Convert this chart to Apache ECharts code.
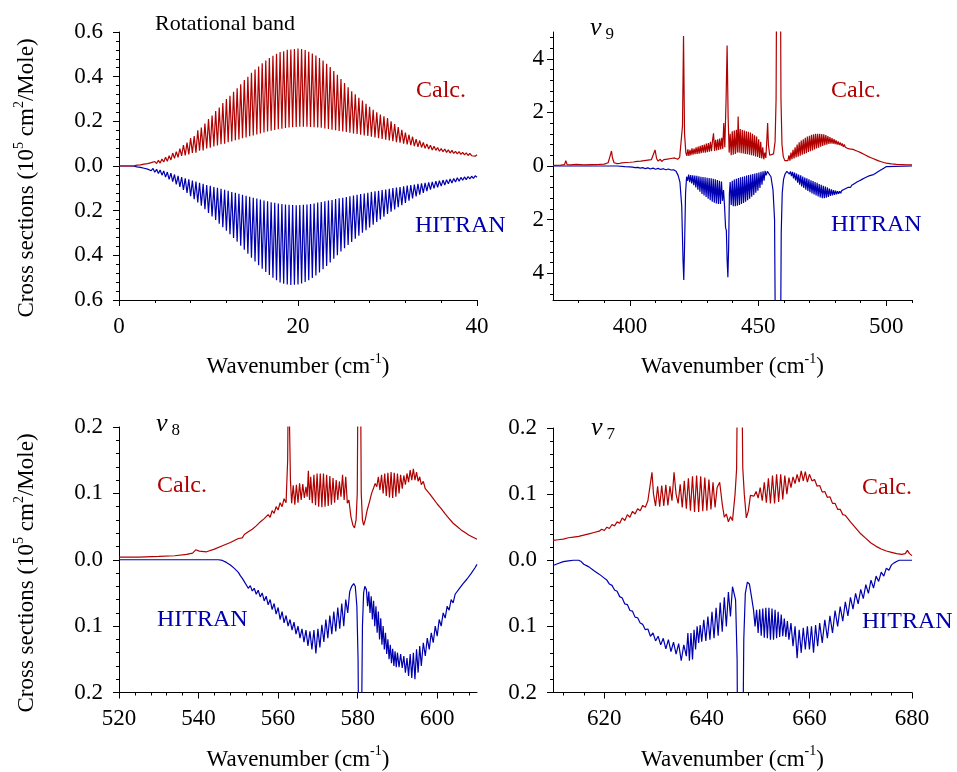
<!DOCTYPE html>
<html><head><meta charset="utf-8">
<script src="https://cdn.jsdelivr.net/npm/echarts@6/dist/echarts.min.js"></script>
<style>html,body{margin:0;padding:0;background:#fff}#c{width:957px;height:772px}</style>
</head><body><div id="c"></div>
<script>
// ---------- Rotational band (0-40 cm-1) ----------
const rotX = [
0,0.2,0.4,0.6,0.8,1,1.2,1.4,1.6,1.8,
2,2.2,2.4,2.6,2.8,3,3.2,3.4,3.6,3.8,
4,4.2,4.4,4.6,4.8,5,5.2,5.4,5.6,5.8,
6,6.2,6.4,6.6,6.8,7,7.2,7.4,7.6,7.8,
8,8.2,8.4,8.6,8.8,9,9.2,9.4,9.6,9.8,
10,10.2,10.4,10.6,10.8,11,11.2,11.4,11.6,11.8,
12,12.2,12.4,12.6,12.8,13,13.2,13.4,13.6,13.8,
14,14.2,14.4,14.6,14.8,15,15.2,15.4,15.6,15.8,
16,16.2,16.4,16.6,16.8,17,17.2,17.4,17.6,17.8,
18,18.2,18.4,18.6,18.8,19,19.2,19.4,19.6,19.8,
20,20.2,20.4,20.6,20.8,21,21.2,21.4,21.6,21.8,
22,22.2,22.4,22.6,22.8,23,23.2,23.4,23.6,23.8,
24,24.2,24.4,24.6,24.8,25,25.2,25.4,25.6,25.8,
26,26.2,26.4,26.6,26.8,27,27.2,27.4,27.6,27.8,
28,28.2,28.4,28.6,28.8,29,29.2,29.4,29.6,29.8,
30,30.2,30.4,30.6,30.8,31,31.2,31.4,31.6,31.8,
32,32.2,32.4,32.6,32.8,33,33.2,33.4,33.6,33.8,
34,34.2,34.4,34.6,34.8,35,35.2,35.4,35.6,35.8,
36,36.2,36.4,36.6,36.8,37,37.2,37.4,37.6,37.8,
38,38.2,38.4,38.6,38.8,39,39.2,39.4,39.6,39.8,
40];
const rotCalc = [
0,0,0,0,0,0.001,0,0.001,0,0.001,
0.004,0.002,0.005,0.003,0.008,0.005,0.011,0.006,0.015,0.008,
0.02,0.011,0.025,0.013,0.031,0.018,0.039,0.021,0.046,0.027,
0.058,0.034,0.064,0.039,0.078,0.045,0.094,0.047,0.105,0.052,
0.125,0.058,0.134,0.06,0.16,0.068,0.172,0.07,0.19,0.078,
0.21,0.082,0.226,0.087,0.246,0.092,0.262,0.097,0.282,0.1,
0.3,0.106,0.314,0.11,0.332,0.115,0.348,0.119,0.366,0.124,
0.385,0.128,0.4,0.133,0.418,0.137,0.432,0.141,0.446,0.146,
0.46,0.15,0.472,0.154,0.484,0.158,0.494,0.161,0.502,0.165,
0.51,0.167,0.514,0.17,0.52,0.172,0.522,0.174,0.524,0.175,
0.526,0.176,0.524,0.176,0.519,0.176,0.511,0.175,0.504,0.174,
0.495,0.173,0.484,0.171,0.472,0.168,0.458,0.166,0.443,0.162,
0.425,0.16,0.408,0.157,0.39,0.155,0.371,0.152,0.353,0.149,
0.335,0.146,0.321,0.143,0.306,0.14,0.293,0.137,0.279,0.135,
0.265,0.131,0.252,0.128,0.241,0.124,0.23,0.121,0.222,0.118,
0.215,0.114,0.2,0.111,0.188,0.107,0.174,0.104,0.162,0.1,
0.15,0.097,0.14,0.093,0.131,0.089,0.12,0.086,0.114,0.083,
0.105,0.079,0.099,0.076,0.093,0.072,0.088,0.07,0.083,0.066,
0.078,0.064,0.076,0.061,0.072,0.058,0.07,0.056,0.066,0.054,
0.064,0.052,0.061,0.05,0.059,0.047,0.056,0.046,0.053,0.044,
0.05];
const rotHitran = [
0,0,0,0,0,-0.001,0,-0.001,0,-0.002,
-0.004,-0.002,-0.006,-0.003,-0.01,-0.006,-0.014,-0.008,-0.021,-0.011,
-0.028,-0.015,-0.034,-0.018,-0.041,-0.022,-0.05,-0.027,-0.06,-0.032,
-0.07,-0.038,-0.082,-0.044,-0.094,-0.05,-0.107,-0.055,-0.121,-0.06,
-0.135,-0.065,-0.149,-0.07,-0.163,-0.075,-0.178,-0.08,-0.194,-0.085,
-0.21,-0.089,-0.226,-0.094,-0.242,-0.098,-0.258,-0.102,-0.274,-0.107,
-0.29,-0.111,-0.306,-0.116,-0.322,-0.12,-0.339,-0.124,-0.357,-0.129,
-0.375,-0.133,-0.393,-0.138,-0.411,-0.142,-0.428,-0.146,-0.444,-0.15,
-0.46,-0.154,-0.474,-0.158,-0.488,-0.162,-0.5,-0.165,-0.512,-0.168,
-0.522,-0.17,-0.527,-0.172,-0.531,-0.174,-0.533,-0.175,-0.532,-0.176,
-0.53,-0.175,-0.526,-0.174,-0.519,-0.172,-0.511,-0.17,-0.501,-0.168,
-0.49,-0.164,-0.477,-0.161,-0.462,-0.158,-0.448,-0.155,-0.432,-0.152,
-0.415,-0.148,-0.399,-0.145,-0.383,-0.142,-0.368,-0.139,-0.354,-0.136,
-0.34,-0.132,-0.326,-0.129,-0.312,-0.126,-0.299,-0.123,-0.287,-0.12,
-0.275,-0.116,-0.263,-0.113,-0.251,-0.111,-0.239,-0.108,-0.227,-0.105,
-0.215,-0.102,-0.205,-0.099,-0.195,-0.097,-0.185,-0.094,-0.175,-0.091,
-0.165,-0.088,-0.155,-0.085,-0.145,-0.083,-0.136,-0.08,-0.128,-0.078,
-0.12,-0.076,-0.113,-0.073,-0.106,-0.071,-0.1,-0.068,-0.095,-0.066,
-0.09,-0.063,-0.085,-0.061,-0.08,-0.058,-0.076,-0.056,-0.072,-0.053,
-0.068,-0.051,-0.064,-0.049,-0.061,-0.047,-0.058,-0.046,-0.055,-0.044,
-0.05];

// ---------- nu9 band (370-510 cm-1), [wavenumber, value] ----------
const nu9Calc = [
[370,0.02],[373,0.03],[374.5,0.05],[375,0.2],[375.5,0.05],[377,0.04],[379,0.06],[379.5,0.04],[382,0.04],[385,0.05],
[388,0.06],[390,0.07],[391.5,0.12],[392.5,0.45],[392.8,0.56],[393.2,0.3],[393.8,0.12],[395,0.09],
[396,0.1],[397,0.12],[397.5,0.1],[398.3,0.13],[399,0.11],[400,0.14],[400.5,0.11],[401.3,0.15],[402,0.12],[402.8,0.17],
[403.4,0.13],[404.2,0.18],[404.8,0.14],[405.6,0.2],[406.2,0.15],[407,0.22],[407.6,0.16],[408.4,0.24],[409,0.2],[409.8,0.6],
[410.4,0.28],[411,0.18],[411.8,0.25],[412.4,0.17],[413.2,0.24],[413.8,0.18],[414.6,0.26],[415.2,0.2],[416,0.28],[416.6,0.22],
[417.4,0.3],[418,0.35],[418.6,0.25],[419.4,0.32],[420,0.3],[420.5,1.5],[420.9,4.85],[421.3,1.2],[421.8,0.5],
[422.2,0.38],[422.6,0.62],[423,0.38],[423.4,0.6],[423.8,0.4],[424.2,0.66],[424.6,0.42],[425,0.65],[425.4,0.44],[425.8,0.7],
[426.2,0.45],[426.6,0.72],[427,0.46],[427.4,0.75],[427.8,0.48],[428.2,0.78],[428.6,0.5],[429,0.8],[429.4,0.5],[429.8,0.84],
[430.2,0.52],[430.6,0.86],[431,0.53],[431.4,0.9],[431.8,0.55],[432.2,0.94],[432.6,1.22],[433,0.56],[433.4,0.98],[433.8,0.58],
[434.2,1.0],[434.6,0.6],[435,1.02],[435.4,0.62],[435.8,1.05],[436.2,0.64],[436.6,1.6],[437,0.7],[437.5,2.5],[437.9,4.5],
[438.3,1.8],[438.7,0.5],[439.1,1.2],[439.5,0.4],[439.9,1.3],[440.3,0.42],[440.7,1.32],[441.1,0.45],[441.5,1.35],[441.9,0.5],
[442.2,1.85],[442.6,0.5],[443,1.38],[443.4,0.48],[443.8,1.35],[444.2,0.47],[444.6,1.32],[445,0.45],[445.4,1.3],[445.8,0.44],
[446.2,1.28],[446.6,0.42],[447,1.25],[447.4,0.4],[447.8,1.2],[448.2,0.38],[448.6,1.15],[449,0.36],[449.4,1.1],[449.8,0.34],
[450.2,1.0],[450.6,0.3],[451,0.9],[451.4,0.28],[451.8,0.7],[452.2,0.25],[452.6,0.5],[453,0.3],[453.4,1.0],[453.7,1.6],
[454,0.8],[454.5,0.4],[455.2,0.35],[456,0.45],[456.6,0.9],[457,2.5],[457.3,9],[458.6,9],[458.9,2.5],[459.3,0.8],
[459.8,0.35],[460.4,0.2],[461,0.15],[461.6,0.2],
[462,0.4],[462.4,0.2],[462.8,0.5],[463.2,0.25],[463.6,0.6],[464,0.28],[464.4,0.7],[464.8,0.32],[465.2,0.8],[465.6,0.35],
[466,0.88],[466.4,0.38],[466.8,0.95],[467.2,0.42],[467.6,1.0],[468,0.45],[468.4,1.05],[468.8,0.48],[469.2,1.1],[469.6,0.52],
[470,1.13],[470.4,0.55],[470.8,1.16],[471.2,0.58],[471.6,1.18],[472,0.62],[472.4,1.2],[472.8,0.65],[473.2,1.2],[473.6,0.68],
[474,1.2],[474.4,0.72],[474.8,1.19],[475.2,0.75],[475.6,1.18],[476,0.78],[476.4,1.15],[476.8,0.8],[477.2,1.12],[477.6,0.82],
[478,1.08],[478.4,0.83],[478.8,1.04],[479.2,0.83],[479.6,1.0],[480,0.82],[480.4,0.96],[480.8,0.8],[481.2,0.92],[481.6,0.78],
[482,0.88],[482.4,0.76],[482.8,0.84],[483.2,0.72],[483.6,0.8],[484,0.7],[484.4,0.76],[484.8,0.66],[485.2,0.71],[485.6,0.64],
[486,0.66],[487,0.62],[488,0.58],[489,0.54],[490,0.5],[491,0.45],[492,0.4],[493,0.35],[494,0.31],[495,0.27],
[496,0.23],[497,0.19],[498,0.16],[499,0.13],[500,0.11],[502,0.08],[504,0.06],[506,0.05],[508,0.04],[510,0.04]];
const nu9Hitran = [
[370,0],[395,0],[398,-0.02],[400,-0.03],[401,-0.04],[402,-0.06],[403,-0.05],[404,-0.08],[405,-0.06],[406,-0.1],
[407,-0.07],[408,-0.11],[409,-0.08],[410,-0.12],[411,-0.09],[412,-0.13],[413,-0.1],[414,-0.14],[415,-0.11],[416,-0.15],
[417,-0.14],[418,-0.2],[418.8,-0.35],[419.5,-0.6],[420.2,-1.5],[420.7,-3.5],[421,-4.25],[421.3,-3.0],[421.7,-1.0],[422.1,-0.4],
[422.5,-0.55],[422.9,-0.32],[423.3,-0.6],[423.7,-0.34],[424.1,-0.65],[424.5,-0.35],[424.9,-0.72],[425.3,-0.36],[425.7,-0.8],[426.1,-0.37],
[426.5,-0.88],[426.9,-0.38],[427.3,-0.96],[427.7,-0.4],[428.1,-1.04],[428.5,-0.41],[428.9,-1.1],[429.3,-0.42],[429.7,-1.16],[430.1,-0.44],
[430.5,-1.22],[430.9,-0.45],[431.3,-1.28],[431.7,-0.46],[432.1,-1.33],[432.5,-0.48],[432.9,-1.37],[433.3,-0.5],[433.7,-1.4],[434.1,-0.52],
[434.5,-1.42],[434.9,-0.55],[435.3,-1.42],[435.7,-0.58],[436.1,-1.3],[436.5,-0.9],[436.9,-1.5],[437.3,-2.3],[437.6,-2.4],[437.9,-3.5],
[438.2,-4.15],[438.5,-3.0],[438.8,-1.0],[439.1,-0.6],[439.5,-1.45],[439.9,-0.55],[440.3,-1.5],[440.7,-0.5],[441.1,-1.5],[441.5,-0.48],
[441.9,-1.48],[442.3,-0.45],[442.7,-1.45],[443.1,-0.42],[443.5,-1.42],[443.9,-0.4],[444.3,-1.38],[444.7,-0.38],[445.1,-1.33],[445.5,-0.36],
[445.9,-1.28],[446.3,-0.34],[446.7,-1.22],[447.1,-0.32],[447.5,-1.15],[447.9,-0.3],[448.3,-1.08],[448.7,-0.28],[449.1,-1.0],[449.5,-0.26],
[449.9,-0.92],[450.3,-0.24],[450.7,-0.82],[451.1,-0.22],[451.5,-0.7],[451.9,-0.2],[452.3,-0.55],[452.7,-0.18],[453.1,-0.35],[453.6,-0.2],
[454.2,-0.25],[455,-0.4],[455.8,-0.9],[456.4,-2.0],[456.9,-9],[458.6,-9],[459,-2.5],[459.4,-1.0],[459.9,-0.5],[460.5,-0.3],
[461.2,-0.2],[461.8,-0.18],[462.2,-0.3],[462.6,-0.2],[463,-0.38],[463.4,-0.22],[463.8,-0.46],[464.2,-0.25],[464.6,-0.54],[465,-0.28],
[465.4,-0.62],[465.8,-0.32],[466.2,-0.7],[466.6,-0.35],[467,-0.76],[467.4,-0.39],[467.8,-0.82],[468.2,-0.43],[468.6,-0.88],[469,-0.46],
[469.4,-0.93],[469.8,-0.5],[470.2,-0.98],[470.6,-0.53],[471,-1.02],[471.4,-0.56],[471.8,-1.06],[472.2,-0.6],[472.6,-1.1],[473,-0.63],
[473.4,-1.14],[473.8,-0.67],[474.2,-1.17],[474.6,-0.7],[475,-1.2],[475.4,-0.74],[475.8,-1.2],[476.2,-0.77],[476.6,-1.18],[477,-0.8],
[477.4,-1.15],[477.8,-0.84],[478.2,-1.12],[478.6,-0.87],[479,-1.1],[479.4,-0.9],[479.8,-1.08],[480.2,-0.92],[480.6,-1.06],[481,-0.94],
[481.4,-1.04],[481.8,-0.94],[482.2,-1.02],[482.6,-0.92],[483,-0.98],[483.4,-0.88],[483.8,-0.94],[484.2,-0.84],[484.6,-0.9],[485,-0.8],
[486,-0.8],[486.5,-0.72],[487,-0.76],[487.5,-0.66],[488,-0.7],[488.5,-0.6],[489,-0.64],[489.5,-0.55],[490,-0.58],[490.5,-0.5],
[491,-0.52],[491.5,-0.45],[492,-0.47],[492.5,-0.4],[493,-0.42],[493.5,-0.36],[494,-0.37],[495,-0.32],[496,-0.26],[497,-0.2],
[498,-0.14],[499,-0.08],[500,-0.02],[500.5,0],[510,0]];

// ---------- nu8 band (520-610 cm-1) ----------
const nu8Calc = [
[520,0.004],[525,0.004],[530,0.005],[534,0.006],[537,0.008],[538.5,0.01],[539.3,0.015],[539.7,0.017],[540.2,0.013],[540.7,0.01],
[542,0.012],[544,0.016],[546,0.021],[548,0.026],[550,0.032],[550.5,0.035],[551,0.033],[551.5,0.038],[552,0.036],[552.5,0.042],
[553,0.04],[553.5,0.046],[554,0.044],[554.5,0.051],[555,0.049],[555.5,0.057],[556,0.054],[556.5,0.062],[557,0.059],[557.5,0.068],
[558,0.064],[558.5,0.074],[559,0.07],[559.5,0.08],[560,0.075],[560.5,0.086],[561,0.08],[561.5,0.092],[562,0.086],[562.4,0.15],
[562.6,0.3],[562.9,0.3],[563.1,0.12],[563.4,0.085],[563.8,0.112],[564.2,0.083],[564.6,0.113],[565,0.086],[565.4,0.115],[565.8,0.09],
[566.2,0.114],[566.6,0.093],[567,0.11],[567.3,0.095],[567.6,0.134],[567.9,0.09],[568.2,0.125],[568.6,0.085],[569,0.128],[569.4,0.082],
[569.8,0.13],[570.2,0.08],[570.6,0.13],[571,0.079],[571.4,0.13],[571.8,0.08],[572.2,0.128],[572.6,0.081],[573,0.126],[573.4,0.083],
[573.8,0.123],[574.2,0.086],[574.6,0.12],[575,0.09],[575.4,0.118],[575.8,0.095],[576.2,0.128],[576.6,0.09],[577,0.125],[577.4,0.085],
[577.8,0.09],[578.3,0.065],[578.8,0.052],[579.2,0.048],[579.6,0.06],[579.9,0.1],[580.1,0.3],[580.7,0.3],[580.9,0.1],[581.2,0.06],
[581.5,0.052],[581.9,0.06],[582.4,0.075],[583,0.088],[583.5,0.1],[584,0.108],[584.4,0.115],[584.8,0.11],[585.2,0.125],[585.6,0.105],
[586,0.128],[586.4,0.1],[586.8,0.13],[587.2,0.096],[587.6,0.131],[588,0.094],[588.4,0.132],[588.8,0.093],[589.2,0.131],[589.6,0.095],
[590,0.13],[590.4,0.1],[590.8,0.128],[591.2,0.107],[591.6,0.127],[592,0.113],[592.4,0.13],[592.8,0.117],[593.2,0.135],[593.6,0.12],
[594,0.137],[594.4,0.12],[594.8,0.132],[595.2,0.118],[595.6,0.125],[596,0.113],[596.5,0.118],[597,0.107],[597.5,0.11],[598,0.1],
[598.5,0.101],[599,0.092],[599.5,0.092],[600,0.084],[600.5,0.084],[601,0.077],[601.5,0.076],[602,0.069],[602.5,0.068],[603,0.062],
[603.5,0.061],[604,0.055],[605,0.05],[606,0.045],[607,0.041],[608,0.037],[609,0.034],[610,0.031]];
const nu8Hitran = [
[520,0],[545,0],[546,-0.001],[547,-0.004],[548,-0.008],[549,-0.013],[550,-0.019],[550.5,-0.024],[551,-0.028],[551.5,-0.033],
[552,-0.035],[552.5,-0.043],[553,-0.039],[553.5,-0.047],[554,-0.043],[554.5,-0.052],[555,-0.046],[555.5,-0.056],[556,-0.05],[556.5,-0.062],
[557,-0.055],[557.5,-0.068],[558,-0.06],[558.5,-0.075],[559,-0.066],[559.5,-0.082],[560,-0.072],[560.5,-0.09],[561,-0.078],[561.5,-0.095],
[562,-0.084],[562.5,-0.1],[563,-0.09],[563.5,-0.106],[564,-0.094],[564.5,-0.112],[565,-0.1],[565.5,-0.118],[566,-0.104],[566.5,-0.124],
[567,-0.106],[567.5,-0.13],[568,-0.108],[568.5,-0.135],[569,-0.106],[569.5,-0.141],[570,-0.104],[570.5,-0.132],[571,-0.098],[571.5,-0.124],
[572,-0.09],[572.5,-0.118],[573,-0.084],[573.5,-0.112],[574,-0.078],[574.5,-0.108],[575,-0.072],[575.5,-0.104],[576,-0.066],[576.5,-0.1],
[577,-0.06],[577.5,-0.08],[578,-0.048],[578.5,-0.04],[579,-0.036],[579.4,-0.04],[579.8,-0.07],[580.1,-0.15],[580.3,-0.3],[580.9,-0.3],
[581.2,-0.1],[581.5,-0.05],[581.8,-0.04],[582.2,-0.045],[582.5,-0.07],[582.8,-0.048],[583.1,-0.08],[583.4,-0.055],[583.7,-0.09],[584,-0.062],
[584.3,-0.1],[584.6,-0.07],[584.9,-0.11],[585.2,-0.078],[585.5,-0.12],[585.8,-0.088],[586.1,-0.128],[586.4,-0.1],[586.7,-0.135],[587,-0.11],
[587.3,-0.142],[587.6,-0.12],[587.9,-0.15],[588.2,-0.128],[588.5,-0.156],[588.8,-0.134],[589.1,-0.16],[589.4,-0.138],[589.7,-0.162],[590,-0.14],
[590.4,-0.162],[590.8,-0.142],[591.2,-0.163],[591.6,-0.145],[592,-0.17],[592.4,-0.148],[592.8,-0.175],[593.2,-0.142],[593.6,-0.178],[594,-0.14],
[594.4,-0.18],[594.8,-0.135],[595.2,-0.17],[595.6,-0.13],[596,-0.16],[596.5,-0.125],[597,-0.145],[597.5,-0.118],[598,-0.135],[598.5,-0.11],
[599,-0.125],[599.5,-0.1],[600,-0.115],[600.5,-0.09],[601,-0.1],[601.5,-0.08],[602,-0.088],[602.5,-0.07],[603,-0.076],[603.5,-0.06],
[604,-0.065],[604.5,-0.052],[605,-0.055],[605.5,-0.044],[606,-0.046],[606.5,-0.036],[607,-0.038],[607.5,-0.029],[608,-0.03],[608.5,-0.021],
[609,-0.02],[609.5,-0.012],[610,-0.007]];

// ---------- nu7 band (610-680 cm-1) ----------
const nu7Calc = [
[610,0.03],[611,0.031],[612,0.032],[613,0.034],[614,0.035],[615,0.036],[616,0.038],[617,0.04],[618,0.042],[619,0.044],
[619.5,0.047],[620,0.045],[620.5,0.05],[621,0.048],[621.5,0.054],[622,0.052],[622.5,0.058],[623,0.056],[623.5,0.064],[624,0.06],
[624.5,0.069],[625,0.065],[625.5,0.074],[626,0.07],[626.5,0.078],[627,0.075],[627.5,0.083],[628,0.08],[628.5,0.09],[628.8,0.087],
[629.3,0.133],[629.6,0.1],[630,0.082],[630.4,0.112],[630.8,0.081],[631.2,0.113],[631.6,0.082],[632,0.114],[632.4,0.083],[632.8,0.112],
[633.2,0.09],[633.6,0.133],[634,0.1],[634.4,0.086],[634.8,0.115],[635.2,0.08],[635.6,0.12],[636,0.078],[636.4,0.124],[636.8,0.075],
[637.2,0.127],[637.6,0.073],[638,0.128],[638.4,0.073],[638.8,0.127],[639.2,0.074],[639.6,0.125],[640,0.075],[640.4,0.122],[640.8,0.077],
[641.2,0.118],[641.6,0.08],[642,0.11],[642.5,0.118],[643,0.085],[643.4,0.065],[643.8,0.07],[644.2,0.058],[644.6,0.066],[645,0.06],
[645.5,0.1],[645.8,0.138],[646,0.3],[646.8,0.3],[647,0.14],[647.3,0.1],[647.7,0.064],[648.1,0.075],[648.5,0.098],[648.8,0.1],
[649.2,0.097],[649.6,0.104],[650,0.094],[650.4,0.11],[650.8,0.09],[651.2,0.118],[651.6,0.087],[652,0.124],[652.4,0.086],[652.8,0.128],
[653.2,0.086],[653.6,0.13],[654,0.088],[654.4,0.13],[654.8,0.092],[655.2,0.128],[655.6,0.1],[656,0.125],[656.4,0.11],[656.8,0.126],
[657.2,0.116],[657.6,0.13],[658,0.118],[658.4,0.135],[658.8,0.12],[659.2,0.134],[659.6,0.118],[660,0.13],[660.5,0.12],[661,0.122],
[661.5,0.112],[662,0.113],[662.5,0.103],[663,0.104],[663.5,0.095],[664,0.096],[664.5,0.086],[665,0.086],[665.5,0.077],[666,0.077],
[666.5,0.069],[667,0.068],[668,0.058],[669,0.049],[670,0.04],[671,0.033],[672,0.026],[673,0.021],[674,0.017],[675,0.014],
[676,0.012],[677,0.01],[678,0.009],[678.7,0.01],[679.1,0.015],[679.5,0.01],[680,0.007]];
const nu7Hitran = [
[610,-0.008],[611,-0.005],[612,-0.002],[613,-0.001],[614,0],[615,0],[615.5,-0.002],[616,-0.006],[617,-0.01],[618,-0.016],
[619,-0.021],[620,-0.027],[620.5,-0.03],[621,-0.036],[621.5,-0.038],[622,-0.045],[622.5,-0.047],[623,-0.055],[623.5,-0.057],[624,-0.066],
[624.5,-0.067],[625,-0.076],[625.5,-0.077],[626,-0.086],[626.5,-0.087],[627,-0.095],[627.5,-0.097],[628,-0.105],[628.5,-0.104],[629,-0.115],
[629.5,-0.11],[630,-0.122],[630.5,-0.115],[631,-0.128],[631.5,-0.118],[632,-0.134],[632.5,-0.12],[633,-0.138],[633.5,-0.124],[634,-0.142],
[634.5,-0.126],[635,-0.152],[635.5,-0.128],[636,-0.145],[636.3,-0.11],[636.6,-0.152],[636.9,-0.11],[637.2,-0.15],[637.5,-0.105],[637.8,-0.135],
[638.1,-0.1],[638.4,-0.125],[638.7,-0.098],[639,-0.123],[639.4,-0.09],[639.8,-0.122],[640.2,-0.085],[640.6,-0.12],[641,-0.078],[641.4,-0.118],
[641.8,-0.072],[642.2,-0.114],[642.6,-0.064],[643,-0.108],[643.4,-0.056],[643.8,-0.1],[644.2,-0.048],[644.6,-0.085],[645,-0.04],[645.3,-0.038],
[645.6,-0.06],[645.9,-0.15],[646,-0.3],[647,-0.3],[647.2,-0.12],[647.5,-0.05],[647.9,-0.033],[648.3,-0.036],[648.7,-0.055],[649.1,-0.075],
[649.4,-0.1],[649.7,-0.075],[650,-0.11],[650.3,-0.074],[650.6,-0.114],[650.9,-0.073],[651.2,-0.117],[651.5,-0.072],[651.8,-0.118],[652.1,-0.072],
[652.4,-0.12],[652.7,-0.073],[653,-0.12],[653.3,-0.075],[653.6,-0.118],[653.9,-0.078],[654.2,-0.116],[654.5,-0.082],[654.8,-0.115],[655.1,-0.088],
[655.4,-0.116],[655.7,-0.092],[656,-0.12],[656.4,-0.095],[656.8,-0.13],[657.2,-0.1],[657.6,-0.148],[658,-0.105],[658.4,-0.14],[658.8,-0.102],
[659.2,-0.135],[659.6,-0.1],[660,-0.135],[660.4,-0.1],[660.8,-0.14],[661.2,-0.098],[661.6,-0.13],[662,-0.095],[662.5,-0.125],[663,-0.09],
[663.5,-0.118],[664,-0.084],[664.5,-0.11],[665,-0.076],[665.5,-0.1],[666,-0.07],[666.5,-0.092],[667,-0.063],[667.5,-0.084],[668,-0.056],
[668.5,-0.074],[669,-0.05],[669.5,-0.066],[670,-0.044],[670.5,-0.058],[671,-0.037],[671.5,-0.05],[672,-0.03],[672.5,-0.042],[673,-0.024],
[673.5,-0.032],[674,-0.018],[674.5,-0.024],[675,-0.012],[675.5,-0.015],[676,-0.007],[676.5,-0.004],[677,-0.002],[677.5,0],[680,0]];

// ---------- axis ticks ----------
const p1XMajor = [0,20,40];
const p1XMinor = [4,8,12,16,24,28,32,36];
const p1YMajor = [-0.6,-0.4,-0.2,0,0.2,0.4,0.6];
const p1YMinor = [-0.56,-0.52,-0.48,-0.44,-0.36,-0.32,-0.28,-0.24,-0.16,-0.12,-0.08,-0.04,0.04,0.08,0.12,0.16,0.24,0.28,0.32,0.36,0.44,0.48,0.52,0.56];
const p2XMajor = [400,450,500];
const p2XMinor = [380,390,410,420,430,440,460,470,480,490,510];
const p2YMajor = [-4,-2,0,2,4];
const p2YMinor = [-4.8,-4.4,-3.6,-3.2,-2.8,-2.4,-1.6,-1.2,-0.8,-0.4,0.4,0.8,1.2,1.6,2.4,2.8,3.2,3.6,4.4,4.8];
const p3XMajor = [520,540,560,580,600];
const p3XMinor = [524,528,532,536,544,548,552,556,564,568,572,576,584,588,592,596,604,608];
const p4XMajor = [620,640,660,680];
const p4XMinor = [612,616,624,628,632,636,644,648,652,656,664,668,672,676];
const p34YMajor = [-0.2,-0.1,0,0.1,0.2];
const p34YMinor = [-0.18,-0.16,-0.14,-0.12,-0.08,-0.06,-0.04,-0.02,0.02,0.04,0.06,0.08,0.12,0.14,0.16,0.18];

const FONT = 'Liberation Serif';
const RED = '#b00000', BLUE = '#0000b0';
const supRich = {
  n: {fontFamily: FONT, fontSize: 23, color: '#000', lineHeight: 30, verticalAlign: 'middle'},
  sup: {fontFamily: FONT, fontSize: 14, color: '#000', verticalAlign: 'top'}
};
const xName = '{n|Wavenumber (cm}{sup|-1}{n|)}';

function majorX(gi, min, max, vals) {
  return {type: 'value', gridIndex: gi, min: min, max: max, position: 'bottom',
    name: xName, nameLocation: 'middle', nameGap: 52,
    nameTextStyle: {rich: supRich},
    axisLine: {onZero: false, lineStyle: {color: '#000', width: 1}},
    axisTick: {customValues: vals, length: 6, lineStyle: {color: '#000'}},
    axisLabel: {customValues: vals, margin: 15, fontFamily: FONT, fontSize: 23, color: '#000'},
    splitLine: {show: false}};
}
function minorAxis(pos, gi, min, max, vals) {
  return {type: 'value', gridIndex: gi, min: min, max: max, position: pos,
    axisLine: {show: false, onZero: false},
    axisTick: {show: true, customValues: vals, length: 3, lineStyle: {color: '#000'}},
    axisLabel: {show: false}, splitLine: {show: false}};
}
function majorY(gi, min, max, vals, dec, margin) {
  return {type: 'value', gridIndex: gi, min: min, max: max, position: 'left',
    axisLine: {show: true, onZero: false, lineStyle: {color: '#000', width: 1}},
    axisTick: {show: true, customValues: vals, length: 6, lineStyle: {color: '#000'}},
    axisLabel: {customValues: vals, margin: margin, fontFamily: FONT, fontSize: 23, color: '#000',
      formatter: function (v) { return Math.abs(v).toFixed(dec); }},
    splitLine: {show: false}};
}
function line(xi, yi, data, color) {
  return {type: 'line', xAxisIndex: xi, yAxisIndex: yi, data: data, showSymbol: false, symbol: 'none',
    clip: true, sampling: null, lineStyle: {color: color, width: 1.2}, animation: false};
}

const rotCalcData = rotX.map(function (x, i) { return [x, rotCalc[i]]; });
const rotHitranData = rotX.map(function (x, i) { return [x, rotHitran[i]]; });

function label(x, y, text, color, size) {
  return {type: 'text', x: x, y: y, z: 100,
    style: {text: text, fill: color, fontFamily: FONT, fontSize: size, verticalAlign: 'middle', align: 'left'}};
}
function nuLabel(x, y, sub) {
  return {type: 'text', x: x, y: y, z: 100,
    style: {text: '{nu|ν}{sb|' + sub + '}', verticalAlign: 'middle', align: 'left',
      rich: {nu: {fontFamily: FONT, fontStyle: 'italic', fontSize: 26, color: '#666', lineHeight: 30, verticalAlign: 'middle'},
             sb: {fontFamily: FONT, fontSize: 17, color: '#222', verticalAlign: 'bottom', padding: [0, 0, 0, 4]}}}};
}
function yName(x, y) {
  return {type: 'text', x: x, y: y, rotation: Math.PI / 2, z: 100,
    style: {text: '{n|Cross sections (10}{sup|5}{n| cm}{sup|2}{n|/Mole)}', align: 'center', verticalAlign: 'middle', rich: supRich}};
}

const chart = echarts.init(document.getElementById('c'), null, {renderer: 'canvas'});
chart.setOption({
  backgroundColor: '#fff',
  animation: false,
  textStyle: {fontFamily: FONT},
  grid: [
    {left: 119, top: 32, width: 358, height: 268},
    {left: 553, top: 32, width: 359, height: 268},
    {left: 119, top: 427, width: 358, height: 268},
    {left: 553, top: 428, width: 359, height: 269}
  ],
  xAxis: [
    majorX(0, 0, 40, p1XMajor), minorAxis('bottom', 0, 0, 40, p1XMinor),
    majorX(1, 370, 510, p2XMajor), minorAxis('bottom', 1, 370, 510, p2XMinor),
    majorX(2, 520, 610, p3XMajor), minorAxis('bottom', 2, 520, 610, p3XMinor),
    majorX(3, 610, 680, p4XMajor), minorAxis('bottom', 3, 610, 680, p4XMinor)
  ],
  yAxis: [
    majorY(0, -0.6, 0.6, p1YMajor, 1, 16), minorAxis('left', 0, -0.6, 0.6, p1YMinor),
    majorY(1, -5, 5, p2YMajor, 0, 9), minorAxis('left', 1, -5, 5, p2YMinor),
    majorY(2, -0.2, 0.2, p34YMajor, 1, 16), minorAxis('left', 2, -0.2, 0.2, p34YMinor),
    majorY(3, -0.2, 0.2, p34YMajor, 1, 16), minorAxis('left', 3, -0.2, 0.2, p34YMinor)
  ],
  series: [
    line(0, 0, rotHitranData, BLUE), line(0, 0, rotCalcData, RED),
    line(2, 2, nu9Hitran, BLUE), line(2, 2, nu9Calc, RED),
    line(4, 4, nu8Hitran, BLUE), line(4, 4, nu8Calc, RED),
    line(6, 6, nu7Hitran, BLUE), line(6, 6, nu7Calc, RED)
  ],
  graphic: [
    yName(27, 178), yName(27, 573),
    label(155, 24, 'Rotational band', '#000', 22),
    label(416, 91, 'Calc.', RED, 24), label(415, 226, 'HITRAN', BLUE, 24),
    nuLabel(590, 28, '9'),
    label(831, 91, 'Calc.', RED, 24), label(831, 225, 'HITRAN', BLUE, 24),
    nuLabel(156, 424, '8'),
    label(157, 486, 'Calc.', RED, 24), label(157, 620, 'HITRAN', BLUE, 24),
    nuLabel(591, 428, '7'),
    label(862, 488, 'Calc.', RED, 24), label(862, 622, 'HITRAN', BLUE, 24)
  ]
});
</script>
</body></html>
